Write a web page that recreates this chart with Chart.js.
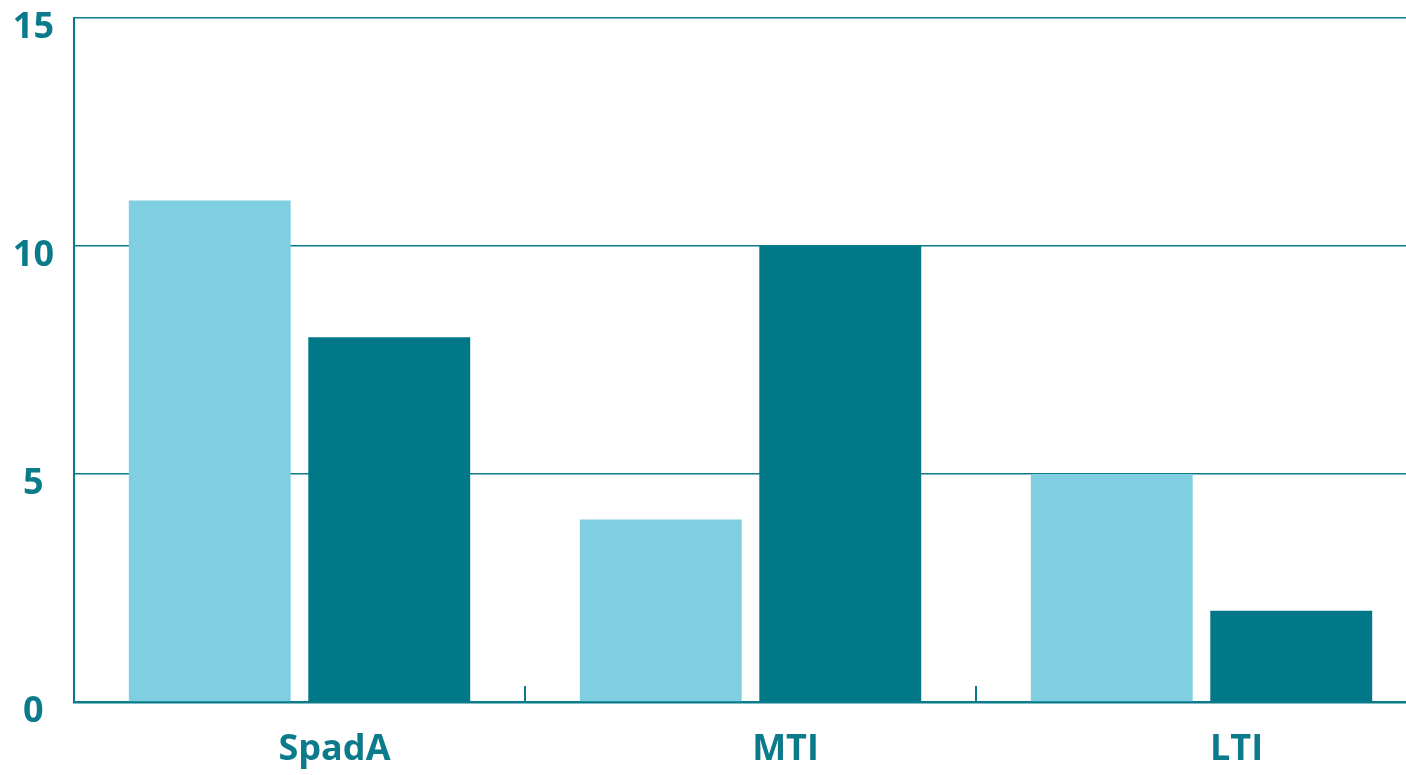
<!DOCTYPE html>
<html>
<head>
<meta charset="utf-8">
<script src="https://cdn.jsdelivr.net/npm/chart.js@4"></script>
<style>
  html, body { margin: 0; padding: 0; background: #fff; overflow: hidden; }
  /* plot area runs a little past the right edge of the window, as in the source */
  #wrap { width: 1427px; height: 775px; }
</style>
</head>
<body>
<div id="wrap"><canvas id="chart"></canvas></div>
<script>
const categories = ["SpadA", "MTI", "LTI"];
const seriesLight = [11, 4, 5];
const seriesDark = [8, 10, 2];
const yTicks = [0, 5, 10, 15];

const teal = "#0b7a8a";
const lightBlue = "#80cfe1";
const darkTeal = "#017888";

// short upward ticks on the category boundaries
const boundaryTicks = {
  id: "boundaryTicks",
  afterDatasetsDraw(chart) {
    const x = chart.scales.x;
    const ctx = chart.ctx;
    const bottom = chart.chartArea.bottom;
    const step = x.getPixelForValue(1) - x.getPixelForValue(0);
    ctx.save();
    ctx.strokeStyle = teal;
    ctx.lineWidth = 2;
    for (let i = 0; i < categories.length; i++) {
      const bx = Math.round(x.getPixelForValue(i) - step / 2);
      ctx.beginPath();
      ctx.moveTo(bx, bottom);
      ctx.lineTo(bx, bottom - 16);
      ctx.stroke();
    }
    ctx.restore();
  }
};

new Chart(document.getElementById("chart"), {
  type: "bar",
  data: {
    labels: categories,
    datasets: [
      { data: seriesLight, backgroundColor: lightBlue, categoryPercentage: 0.796, barPercentage: 0.902 },
      { data: seriesDark, backgroundColor: darkTeal, categoryPercentage: 0.796, barPercentage: 0.902 }
    ]
  },
  options: {
    responsive: true,
    maintainAspectRatio: false,
    animation: false,
    layout: { padding: { top: 18, right: 0, left: 0, bottom: 0 } },
    plugins: { legend: { display: false }, tooltip: { enabled: false } },
    scales: {
      x: {
        grid: { display: false, drawTicks: false },
        border: { display: true, color: teal, width: 2.5 },
        ticks: {
          color: teal,
          font: { family: "'Open Sans', sans-serif", size: 36, weight: "bold" },
          padding: 26,
          labelOffset: 35
        },
        afterFit(scale) {
          scale.height = 73;
          scale.paddingLeft = 0;
          scale.paddingRight = 0;
        }
      },
      y: {
        min: 0,
        max: 15,
        afterBuildTicks(scale) { scale.ticks = yTicks.map(v => ({ value: v })); },
        grid: { color: teal, lineWidth: 1.5, drawTicks: false },
        border: { display: true, color: teal, width: 2 },
        ticks: {
          color: teal,
          font: { family: "'Open Sans', sans-serif", size: 36, weight: "bold" },
          padding: 20,
          crossAlign: "center",
          labelOffset: 10
        },
        afterFit(scale) {
          scale.width = 74;
          scale.paddingTop = 0;
          scale.paddingBottom = 0;
        }
      }
    }
  },
  plugins: [boundaryTicks]
});
</script>
</body>
</html>
